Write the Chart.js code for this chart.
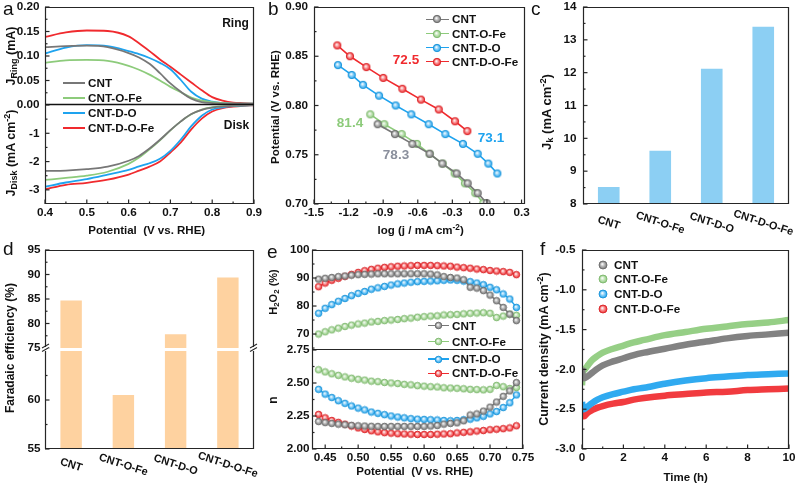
<!DOCTYPE html>
<html>
<head>
<meta charset="utf-8">
<script src="https://cdn.jsdelivr.net/npm/chart.js@4.4.1/dist/chart.umd.min.js"></script>
<style>
html,body{margin:0;padding:0;width:800px;height:486px;overflow:hidden;background:#fff;}
.cv{position:absolute;left:-50px;top:-50px;}
.t{position:absolute;font-family:"Liberation Sans",Arial,sans-serif;font-weight:bold;color:#111;white-space:nowrap;line-height:1;}
.t sub{font-size:72%;vertical-align:-0.3em;line-height:0;}
.t sup{font-size:72%;vertical-align:0.5em;line-height:0;}
.lg{position:absolute;}
</style>
</head>
<body>
<script>
// ---------------- shared ----------------
const seriesNames  = ['CNT', 'CNT-O-Fe', 'CNT-D-O', 'CNT-D-O-Fe'];
const seriesColors = ['#777777', '#8dcb7b', '#1ea3ef', '#f02a2e'];

// ---------------- panel a (RRDE) ----------------
const aPotential = [0.40,0.45,0.50,0.55,0.60,0.625,0.65,0.675,0.70,0.725,0.75,0.775,0.80,0.825,0.85,0.875,0.90];
const aRingCNT  = [0.118,0.120,0.121,0.118,0.106,0.097,0.084,0.065,0.044,0.027,0.013,0.006,0.004,0.003,0.002,0.002,0.002];
const aRingOFe  = [0.086,0.091,0.092,0.090,0.080,0.072,0.062,0.050,0.037,0.026,0.015,0.009,0.006,0.004,0.003,0.003,0.003];
const aRingDO   = [0.105,0.117,0.122,0.120,0.110,0.104,0.096,0.086,0.073,0.051,0.027,0.013,0.007,0.004,0.003,0.003,0.003];
const aRingDOFe = [0.139,0.148,0.152,0.151,0.140,0.126,0.110,0.093,0.078,0.062,0.046,0.030,0.016,0.009,0.005,0.004,0.003];
const aDiskCNT  = [-2.33,-2.32,-2.27,-2.18,-1.97,-1.80,-1.54,-1.23,-0.89,-0.58,-0.32,-0.17,-0.09,-0.05,-0.03,-0.01,0];
const aDiskOFe  = [-2.65,-2.58,-2.50,-2.36,-2.08,-1.86,-1.57,-1.25,-0.90,-0.58,-0.33,-0.16,-0.08,-0.04,-0.02,-0.01,0];
const aDiskDO   = [-2.89,-2.74,-2.62,-2.46,-2.29,-2.17,-2.06,-1.90,-1.62,-1.22,-0.75,-0.38,-0.16,-0.08,-0.04,-0.02,0];
const aDiskDOFe = [-2.98,-2.82,-2.75,-2.64,-2.46,-2.32,-2.18,-2.00,-1.68,-1.32,-0.86,-0.48,-0.23,-0.11,-0.06,-0.03,-0.01];
const aXTickLabels    = ['0.4','0.5','0.6','0.7','0.8','0.9'];
const aRingTickLabels = ['0.00','0.05','0.10','0.15','0.20'];
const aDiskTickLabels = ['-1','-2','-3'];

// ---------------- panel b (Tafel) ----------------
const bLogJ_CNT  = [-0.948,-0.798,-0.647,-0.497,-0.387,-0.262,-0.167,-0.080,-0.002];
const bPot_CNT   = [0.781,0.771,0.761,0.751,0.741,0.731,0.721,0.711,0.701];
const bLogJ_OFe  = [-1.012,-0.890,-0.739,-0.607,-0.497,-0.384,-0.280,-0.191,-0.101,-0.032];
const bPot_OFe   = [0.791,0.781,0.771,0.761,0.751,0.741,0.731,0.721,0.711,0.701];
const bLogJ_DO   = [-1.292,-1.173,-1.075,-0.936,-0.792,-0.656,-0.505,-0.361,-0.208,-0.080,0.012,0.090];
const bPot_DO    = [0.841,0.831,0.821,0.810,0.800,0.791,0.781,0.771,0.761,0.751,0.741,0.731];
const bLogJ_DOFe = [-1.298,-1.188,-1.046,-0.899,-0.734,-0.572,-0.418,-0.277,-0.170];
const bPot_DOFe  = [0.861,0.850,0.839,0.828,0.817,0.806,0.796,0.784,0.774];
const bTafelSlopes = ['78.3','81.4','73.1','72.5'];
const bXTickLabels = ['-1.5','-1.2','-0.9','-0.6','-0.3','0.0','0.3'];
const bYTickLabels = ['0.70','0.75','0.80','0.85','0.90'];

// ---------------- panel c (Jk) ----------------
const categories = ['CNT', 'CNT-O-Fe', 'CNT-D-O', 'CNT-D-O-Fe'];
const cJk = [8.52, 9.62, 12.12, 13.40];
const cYTickLabels = ['8','9','10','11','12','13','14'];

// ---------------- panel d (Faradaic efficiency) ----------------
const dFE = [84.7, 60.5, 77.8, 89.4];
const dUpperTickLabels = ['75','80','85','90','95'];
const dLowerTickLabels = ['55','60'];

// ---------------- panel e (H2O2 % and n) ----------------
const ePotential = [0.44,0.45,0.46,0.47,0.48,0.49,0.50,0.51,0.52,0.53,0.54,0.55,0.56,0.57,0.58,0.59,0.60,0.61,0.62,0.63,0.64,0.65,0.66,0.67,0.68,0.69,0.70,0.71,0.72,0.73,0.74];
const eH2O2_CNT  = [89.6,89.9,90.2,90.5,90.7,91.0,91.2,91.3,91.4,91.5,91.5,91.5,91.5,91.5,91.5,91.5,91.5,91.4,91.1,90.5,90.2,90.0,89.4,86.7,86.4,85.5,83.9,81.9,79.5,77.1,74.8];
const eH2O2_OFe  = [70.0,70.8,71.5,72.1,72.7,73.2,73.6,73.9,74.3,74.5,74.8,75.0,75.2,75.5,75.7,76.0,76.2,76.4,76.5,76.8,76.9,77.0,77.2,77.4,77.5,77.6,77.4,75.9,76.4,77.1,76.7];
const eH2O2_DO   = [77.4,79.2,80.5,81.7,82.7,83.7,84.5,85.2,86.0,86.5,87.0,87.5,87.9,88.2,88.5,88.7,88.8,88.9,89.0,89.2,89.3,89.2,88.9,88.7,88.2,87.6,86.7,85.8,84.3,82.5,79.5];
const eH2O2_DOFe = [86.9,88.2,89.2,89.9,90.6,91.3,92.0,92.6,93.1,93.5,93.8,94.0,94.2,94.3,94.4,94.5,94.5,94.5,94.4,94.3,94.2,93.9,93.7,93.5,93.2,93.0,92.7,92.5,92.3,92.0,91.2];
const eN_CNT  = [2.208,2.200,2.194,2.188,2.184,2.179,2.176,2.174,2.172,2.171,2.171,2.171,2.171,2.171,2.171,2.171,2.171,2.174,2.178,2.188,2.194,2.198,2.214,2.258,2.266,2.287,2.317,2.356,2.399,2.440,2.503];
const eN_OFe  = [2.600,2.584,2.570,2.558,2.546,2.536,2.528,2.522,2.514,2.510,2.504,2.500,2.496,2.490,2.486,2.480,2.476,2.472,2.470,2.464,2.462,2.460,2.456,2.452,2.450,2.448,2.452,2.482,2.472,2.458,2.466];
const eN_DO   = [2.452,2.416,2.390,2.366,2.346,2.326,2.310,2.296,2.280,2.270,2.260,2.250,2.242,2.236,2.230,2.226,2.224,2.222,2.220,2.216,2.214,2.216,2.222,2.226,2.236,2.248,2.266,2.284,2.314,2.350,2.410];
const eN_DOFe = [2.262,2.236,2.216,2.202,2.188,2.174,2.160,2.148,2.138,2.130,2.124,2.120,2.116,2.114,2.112,2.110,2.110,2.110,2.112,2.114,2.116,2.122,2.126,2.130,2.136,2.140,2.146,2.150,2.154,2.160,2.176];
const eXTickLabels  = ['0.45','0.50','0.55','0.60','0.65','0.70','0.75'];
const eH2O2TickLabels = ['70','80','90','100'];
const eNTickLabels  = ['2.00','2.25','2.50','2.75'];

// ---------------- panel f (stability) ----------------
const fTime = [0,0.03,0.1,0.25,0.5,0.75,1,1.5,2,2.5,3,4,5,6,7,8,9,10];
const fCNT  = [-1.98,-2.10,-2.11,-2.09,-2.04,-1.99,-1.95,-1.90,-1.86,-1.82,-1.79,-1.74,-1.69,-1.65,-1.61,-1.58,-1.56,-1.54];
const fOFe  = [-2.20,-2.05,-2.01,-1.96,-1.88,-1.83,-1.79,-1.74,-1.70,-1.66,-1.63,-1.57,-1.53,-1.49,-1.46,-1.43,-1.41,-1.38];
const fDO   = [-2.41,-2.47,-2.50,-2.47,-2.42,-2.38,-2.35,-2.31,-2.28,-2.25,-2.23,-2.18,-2.14,-2.11,-2.09,-2.07,-2.06,-2.05];
const fDOFe = [-2.49,-2.56,-2.59,-2.55,-2.51,-2.48,-2.46,-2.43,-2.41,-2.38,-2.36,-2.33,-2.31,-2.29,-2.28,-2.26,-2.25,-2.24];
const fXTickLabels = ['0','2','4','6','8','10'];
const fYTickLabels = ['-3.0','-2.5','-2.0','-1.5','-1.0','-0.5'];

// =============== helpers ===============
Chart.defaults.font.family = '"Liberation Sans", Arial, Helvetica, sans-serif';
Chart.defaults.font.size = 11.7;
Chart.defaults.font.weight = 'bold';
Chart.defaults.color = '#111';

function hexRgb(h){h=h.replace('#','');return [parseInt(h.substr(0,2),16),parseInt(h.substr(2,2),16),parseInt(h.substr(4,2),16)];}
function mix(c1,c2,t){const a=hexRgb(c1),b=hexRgb(c2);return 'rgb('+a.map((v,i)=>Math.round(v+(b[i]-v)*t)).join(',')+')';}
function sphere(col, r){
  const c=document.createElement('canvas');const s=Math.ceil(2*r+2);c.width=s;c.height=s;
  const g=c.getContext('2d');const cx=s/2,cy=s/2;
  const grd=g.createRadialGradient(cx-r*0.2,cy-r*0.25,r*0.05,cx,cy,r);
  grd.addColorStop(0,'#ffffff');grd.addColorStop(0.5,mix(col,'#ffffff',0.45));grd.addColorStop(1,col);
  g.fillStyle=grd;g.beginPath();g.arc(cx,cy,r,0,Math.PI*2);g.fill();
  g.strokeStyle=mix(col,'#000000',0.1);g.lineWidth=0.9;g.stroke();
  return c;
}

const FRAME='#262626';
const framePlugin = {
  id:'frame',
  afterDatasetsDraw(chart,args,o){
    const ctx=chart.ctx,a=chart.chartArea;
    const L=Math.round(a.left),R=Math.round(a.right),T=Math.round(a.top),B=Math.round(a.bottom);
    ctx.save();
    const seg=(x1,y1,x2,y2,w,c)=>{ctx.lineWidth=w||1.2;ctx.strokeStyle=c||FRAME;ctx.beginPath();ctx.moveTo(x1,y1);ctx.lineTo(x2,y2);ctx.stroke();};
    if(o.top) seg(L,T+0.5,R,T+0.5);
    if(o.left) seg(L+0.5,T,L+0.5,B);
    if(o.right) seg(R-0.5,T,R-0.5,B);
    if(o.bottom) seg(L,B-0.5,R,B-0.5,o.bottomWidth,o.bottomColor);
    const majors=s=>s.ticks.map(t=>t.value);
    const minors=s=>{const m=majors(s);if(m.length<2)return[];const st=m[1]-m[0];const lo=Math.min(s.min,s.max),hi=Math.max(s.min,s.max);
      const cand=[m[0]-st/2];m.forEach(v=>cand.push(v+st/2));return cand.filter(v=>v>lo+1e-9&&v<hi-1e-9);};
    if(o.xTicks){const s=chart.scales.x;
      majors(s).forEach(v=>{const p=s.getPixelForValue(v);seg(p,B,p,B-4.5);});
      minors(s).forEach(v=>{const p=s.getPixelForValue(v);seg(p,B,p,B-2.5);});}
    if(o.yTicks){const s=chart.scales.y;
      majors(s).forEach(v=>{const p=s.getPixelForValue(v);seg(L,p,L+4.5,p);});
      minors(s).forEach(v=>{const p=s.getPixelForValue(v);seg(L,p,L+2.5,p);});}
    if(o.breakTop){
      [L+0.5,R-0.5].forEach(x=>{
        ctx.fillStyle='#fff';ctx.fillRect(x-4,T-4,8,3);
        seg(x-3.5,T+0.5,x+3.5,T-3.5,1.1);seg(x-3.5,T-3,x+3.5,T-7,1.1);
      });
    }
    ctx.restore();
  },
  afterDraw(chart,args,o){
    if(!o.catLabels) return;
    const ctx=chart.ctx,s=chart.scales.x,B=chart.chartArea.bottom;
    ctx.save();
    ctx.font='bold 11px "Liberation Sans", Arial, sans-serif';
    ctx.fillStyle='#111';ctx.textAlign='center';ctx.textBaseline='middle';
    o.catLabels.forEach((lab,i)=>{const x=s.getPixelForValue(i);ctx.save();ctx.translate(x,B+o.catDy);ctx.rotate(o.catAngle*Math.PI/180);ctx.fillText(lab,0,0);ctx.restore();});
    ctx.restore();
  }
};

function linScale(min,max,labels,pad,display,extra){
  const vals=labels.map(Number);
  return Object.assign({
    type:'linear',min,max,display:display!==false,
    grid:{display:false,drawTicks:false},border:{display:false},
    ticks:{padding:pad,autoSkip:false,maxRotation:0,minRotation:0,callback:(v,i)=>labels[i]},
    afterBuildTicks:s=>{s.ticks=vals.map(v=>({value:v}));}
  },extra||{});
}
function catScale(labels){
  return {type:'category',labels,display:false,offset:true,grid:{display:false,drawTicks:false},border:{display:false},ticks:{autoSkip:false}};
}

function mk(rect,type,datasets,scales,frame,labels){
  const cv=document.createElement('canvas');cv.className='cv';cv.width=900;cv.height=586;
  document.body.appendChild(cv);
  const yW=40;const xH=(scales.x.display===false)?0:30;
  scales.y.afterFit=s=>{s.width=yW;};
  if(xH) scales.x.afterFit=s=>{s.height=xH;};
  const data={datasets};if(labels)data.labels=labels;
  return new Chart(cv,{type,data,options:{
    responsive:false,animation:false,events:[],
    layout:{padding:{left:rect.l+50-yW,top:rect.t+50,right:850-rect.r,bottom:536-rect.b-xH}},
    plugins:{legend:{display:false},tooltip:{enabled:false},frame},
    scales},plugins:[framePlugin]});
}
const xy=(xs,ys)=>xs.map((x,i)=>({x,y:ys[i]}));

// =============== panel a ===============
const aRing=[aRingCNT,aRingOFe,aRingDO,aRingDOFe], aDisk=[aDiskCNT,aDiskOFe,aDiskDO,aDiskDOFe];
const lineDs=(d,i,w)=>({label:seriesNames[i],data:d,borderColor:seriesColors[i],borderWidth:w,pointRadius:0,cubicInterpolationMode:'monotone',fill:false});
mk({l:45,t:7,r:254,b:105},'line',aRing.map((ys,i)=>lineDs(xy(aPotential,ys),i,1.8)),
  {x:linScale(0.4,0.9,aXTickLabels,2,false),y:linScale(0,0.2,aRingTickLabels,5.5)},
  {top:1,left:1,right:1,bottom:1,bottomWidth:1.6,bottomColor:'#111',yTicks:1});
mk({l:45,t:105,r:254,b:204},'line',aDisk.map((ys,i)=>lineDs(xy(aPotential,ys),i,1.8)),
  {x:linScale(0.4,0.9,aXTickLabels,2),y:linScale(-3.5,0,aDiskTickLabels,5.5)},
  {left:1,right:1,bottom:1,xTicks:1,yTicks:1});

// =============== panel b ===============
const bX=[bLogJ_CNT,bLogJ_OFe,bLogJ_DO,bLogJ_DOFe], bY=[bPot_CNT,bPot_OFe,bPot_DO,bPot_DOFe];
const bDots=seriesColors.map(c=>sphere(c,3.7));
mk({l:314,t:7,r:525,b:204},'line',bX.map((xs,i)=>({label:seriesNames[i],data:xy(xs,bY[i]),borderColor:seriesColors[i],borderWidth:1.6,pointStyle:bDots[i],pointRadius:3.7,tension:0})),
  {x:linScale(-1.5,0.33,bXTickLabels,2),y:linScale(0.70,0.90,bYTickLabels,6)},
  {top:1,left:1,right:1,bottom:1,xTicks:1,yTicks:1});

// =============== panel c ===============
mk({l:583,t:7,r:789,b:204},'bar',[{label:'Jk',data:cJk,backgroundColor:'#8ccff3',barPercentage:0.84,categoryPercentage:0.5,clip:0}],
  {x:catScale(categories),y:linScale(8,14,cYTickLabels,6.5)},
  {top:1,left:1,right:1,bottom:1,yTicks:1,catLabels:categories,catDy:19,catAngle:18},categories);

// =============== panel d ===============
mk({l:45,t:250,r:254,b:348},'bar',[{label:'FE',data:dFE,backgroundColor:'#fed2a0',barPercentage:0.82,categoryPercentage:0.5,clip:0}],
  {x:catScale(categories),y:linScale(75,95,dUpperTickLabels,4.5)},
  {top:1,left:1,right:1,yTicks:1},categories);
mk({l:45,t:351,r:254,b:449},'bar',[{label:'FE',data:dFE,backgroundColor:'#fed2a0',barPercentage:0.82,categoryPercentage:0.5,clip:0}],
  {x:catScale(categories),y:linScale(55,65,dLowerTickLabels,4.5)},
  {left:1,right:1,bottom:1,yTicks:1,breakTop:1,catLabels:categories,catDy:16,catAngle:18},categories);

// =============== panel e ===============
const eDots=seriesColors.map(c=>sphere(c,3.3));
const eUp=[eH2O2_CNT,eH2O2_OFe,eH2O2_DO,eH2O2_DOFe], eLo=[eN_CNT,eN_OFe,eN_DO,eN_DOFe];
const eDs=(ys,i)=>({label:seriesNames[i],data:xy(ePotential,ys),borderColor:seriesColors[i],borderWidth:1.4,pointStyle:eDots[i],pointRadius:3.3,tension:0});
mk({l:312,t:250,r:523,b:350},'line',eUp.map(eDs),
  {x:linScale(0.43,0.75,eXTickLabels,2,false),y:linScale(64.3,100,eH2O2TickLabels,2.5)},
  {top:1,left:1,right:1,bottom:1,yTicks:1});
mk({l:312,t:350,r:523,b:449},'line',eLo.map(eDs),
  {x:linScale(0.43,0.75,eXTickLabels,2),y:linScale(2.0,2.75,eNTickLabels,2.5)},
  {left:1,right:1,bottom:1,xTicks:1,yTicks:1});

// =============== panel f ===============
const fSeries=[fCNT,fOFe,fDO,fDOFe];
const fDs=[];
fSeries.forEach((ys,i)=>{
  fDs.push({label:seriesNames[i],data:xy(fTime,ys),borderColor:mix(seriesColors[i],'#ffffff',0.08),borderWidth:6.5,pointRadius:0,cubicInterpolationMode:'monotone'});
});
fSeries.forEach((ys,i)=>{
  fDs.push({label:seriesNames[i]+' core',data:xy(fTime,ys),borderColor:'rgba(255,255,255,0.55)',borderWidth:1.6,borderDash:[2,2],pointRadius:0,cubicInterpolationMode:'monotone'});
});
mk({l:582,t:250,r:789,b:449},'line',fDs,
  {x:linScale(0,10,fXTickLabels,2),y:linScale(-3.0,-0.5,fYTickLabels,6.5)},
  {top:1,left:1,right:1,bottom:1,xTicks:1,yTicks:1});

// =============== text overlays ===============
function T(html,x,y,o){o=o||{};const d=document.createElement('div');d.className='t';d.innerHTML=html;
  d.style.left=x+'px';d.style.top=y+'px';d.style.fontSize=(o.size||12)+'px';
  if(o.color)d.style.color=o.color;if(o.weight)d.style.fontWeight=o.weight;
  const an=o.anchor||'c';let tr=an==='c'?'translate(-50%,-50%)':an==='l'?'translate(0,-50%)':'';
  if(o.rot)tr+=' rotate('+o.rot+'deg)';d.style.transform=tr;document.body.appendChild(d);}
function legLine(x1,x2,y,col,w){const d=document.createElement('div');d.className='lg';
  d.style.cssText='left:'+x1+'px;top:'+(y-w/2)+'px;width:'+(x2-x1)+'px;height:'+w+'px;background:'+col;document.body.appendChild(d);}
function legDot(cx,cy,col,r){const c=sphere(col,r);c.className='lg';c.style.left=(cx-c.width/2)+'px';c.style.top=(cy-c.height/2)+'px';document.body.appendChild(c);}

// panel letters
[['a',3,-1],['b',268,-1],['c',531,-1],['d',3,239],['e',267,242],['f',540,239]].forEach(p=>T(p[0],p[1],p[2],{size:19,weight:'normal',anchor:'tl'}));

// axis titles
T('J<sub>Ring</sub> (mA)',11,56,{size:12.5,rot:-90});
T('J<sub>Disk</sub> (mA cm<sup>-2</sup>)',11,152.5,{size:12.5,rot:-90});
T('Potential&nbsp; (V vs. RHE)',146.7,231,{size:11.5});
T('Potential (V vs. RHE)',276,107,{size:11.5,rot:-90});
T('log (j / mA cm<sup>-2</sup>)',420.7,231,{size:11.5});
T('J<sub>k</sub> (mA cm<sup>-2</sup>)',546,112,{size:13,rot:-90});
T('Faradaic efficiency (%)',10,348,{size:12,rot:-90});
T('H<sub>2</sub>O<sub>2</sub> (%)',273,292,{size:11,rot:-90});
T('n',273,400,{size:12,rot:-90});
T('Potential&nbsp; (V vs. RHE)',414.7,472,{size:11.5});
T('Current density (mA cm<sup>-2</sup>)',544,349,{size:12.5,rot:-90});
T('Time (h)',685.7,477.5,{size:11.5});

// panel a legend + notes
[82.7,98.3,113.3,128.3].forEach((y,i)=>{legLine(63,85,y,seriesColors[i],2.2);T(seriesNames[i],88,y,{size:11.7,anchor:'l'});});
T('Ring',235.5,23,{size:12});
T('Disk',236.5,125,{size:12});

// panel b legend + slopes
[19.3,33.7,47.7,61.7].forEach((y,i)=>{legLine(425.7,449,y,seriesColors[i],1.6);legDot(437.4,y,seriesColors[i],3.7);T(seriesNames[i],452,y,{size:11.7,anchor:'l'});});
T(bTafelSlopes[0],396,155,{size:13.5,color:'#8a8f9c'});
T(bTafelSlopes[1],350,123,{size:13.5,color:'#8dcb7b'});
T(bTafelSlopes[2],491,138,{size:13.5,color:'#1ea3ef'});
T(bTafelSlopes[3],406,60,{size:13.5,color:'#f02a2e'});

// panel e legend
[325.7,341.7,359,373.3].forEach((y,i)=>{legLine(427.7,449,y,seriesColors[i],1.4);legDot(438.3,y,seriesColors[i],3.3);T(seriesNames[i],452,y,{size:11.7,anchor:'l'});});

// panel f legend
[265,279.3,294.3,309.3].forEach((y,i)=>{legDot(603.3,y,seriesColors[i],4);T(seriesNames[i],614,y,{size:11.7,anchor:'l'});});
</script>
</body>
</html>
